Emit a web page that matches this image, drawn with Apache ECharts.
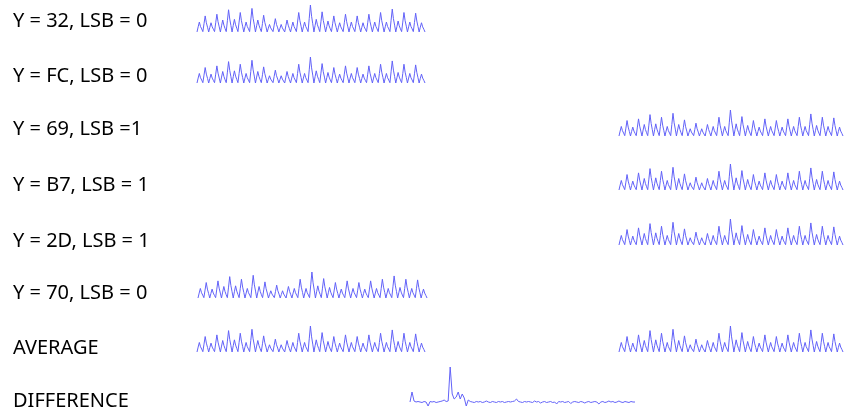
<!DOCTYPE html>
<html><head><meta charset="utf-8">
<script src="https://cdn.jsdelivr.net/npm/echarts@6/dist/echarts.min.js"></script>
<style>html,body{margin:0;padding:0;background:#fff}#c{width:845px;height:409px}</style>
</head><body><div id="c"></div>
<script>
// ---- data ----
const labels = ["Y = 32, LSB = 0","Y = FC, LSB = 0","Y = 69, LSB =1","Y = B7, LSB = 1","Y = 2D, LSB = 1","Y = 70, LSB = 0","AVERAGE","DIFFERENCE"];
// power trace (height above baseline)
const trace = [
3,18,32,19,12, 4,27,50,30,17, 3,17,30,18,11, 4,30,55,33,18, 3,21,38,23,13,
4,36,68,41,22, 3,22,40,24,14, 4,32,60,36,20, 3,18,32,19,12, 4,38,72,43,24,
3,21,38,23,13, 4,28,52,31,18, 3,14,25,15,10, 4,23,42,25,15, 3,14,25,15,10,
3,21,38,23,13, 3,18,32,19,12, 4,32,60,36,20, 3,18,32,19,12, 4,43,82,49,27,
3,22,40,24,14, 4,33,62,37,21, 3,19,35,21,12, 4,27,50,30,17, 3,17,30,18,11,
4,30,55,33,18, 3,18,32,19,12, 4,27,50,30,17, 3,17,30,18,11, 4,30,55,33,18,
3,18,32,19,12, 4,32,60,36,20, 3,18,32,19,12, 4,37,70,42,23, 3,19,35,21,12,
4,32,60,36,20, 3,18,32,19,12, 4,31,58,35,19, 3,17,30,18,11, 3];
const difference = [
0,10,1,0,0.5,0,-0.5,0.5,0,-4,
0.5,0,0.5,-0.5,0,0.5,1,2,0.5,1,
35,8,3,5,10,3,8,4,-4,2,
0.5,0,-0.5,0.5,0,0.5,-0.5,0,1,0,
-0.5,0.5,0,-0.5,0.5,0,0.5,-0.5,0,0.5,
0,0.5,1,3,0.5,0,-0.5,0.5,0,0.5,
0,-0.5,1,0,0.5,-1,0,0.5,-0.5,0,
0.5,-0.5,0,-2,0.5,0,0.5,-0.5,0,0.5,
-1.5,0,0.5,0,-0.5,0.5,0,-1,0,0.5,
-0.5,0,0.5,0,-2,0,0.5,-0.5,0,1,
0,0.5,-0.5,0,1,0,-0.5,0.5,0,-0.5,
0.5,0,0];

// ---- layout ----
const labelY = [20,75,128,184,240,292,347,400];
const L = {left:197,width:228}, R = {left:619,width:224};
const panels = [
  {x:L, top:5,   h:28, data:trace},
  {x:L, top:57,  h:27, data:trace},
  {x:R, top:110, h:27, data:trace},
  {x:R, top:164, h:27, data:trace},
  {x:R, top:219, h:27, data:trace},
  {x:{left:198,width:229}, top:272, h:27, data:trace},
  {x:L, top:326, h:27, data:trace},
  {x:R, top:326, h:27, data:trace},
  {x:{left:410,width:225}, top:366, h:42, data:difference, min:-6, max:36}
];
const color = '#6262f8';
const grid=[], xAxis=[], yAxis=[], series=[];
panels.forEach((p,i)=>{
  grid.push({left:p.x.left, width:p.x.width, top:p.top, height:p.h, containLabel:false});
  xAxis.push({type:'category', gridIndex:i, boundaryGap:false, show:false, data:p.data.map((_,k)=>k)});
  yAxis.push({type:'value', gridIndex:i, show:false, min:p.min!==undefined?p.min:0, max:p.max!==undefined?p.max:82});
  series.push({type:'line', xAxisIndex:i, yAxisIndex:i, data:p.data, showSymbol:false, animation:false,
    lineStyle:{color:color, width:1}, silent:true});
});
const graphic = labels.map((t,i)=>({type:'text', left:13, top:labelY[i]-9,
  style:{text:t, font:'20px "Noto Sans"', fill:'#000'}}));
const chart = echarts.init(document.getElementById('c'), null, {renderer:'canvas'});
chart.setOption({animation:false, grid, xAxis, yAxis, series, graphic});
</script></body></html>
